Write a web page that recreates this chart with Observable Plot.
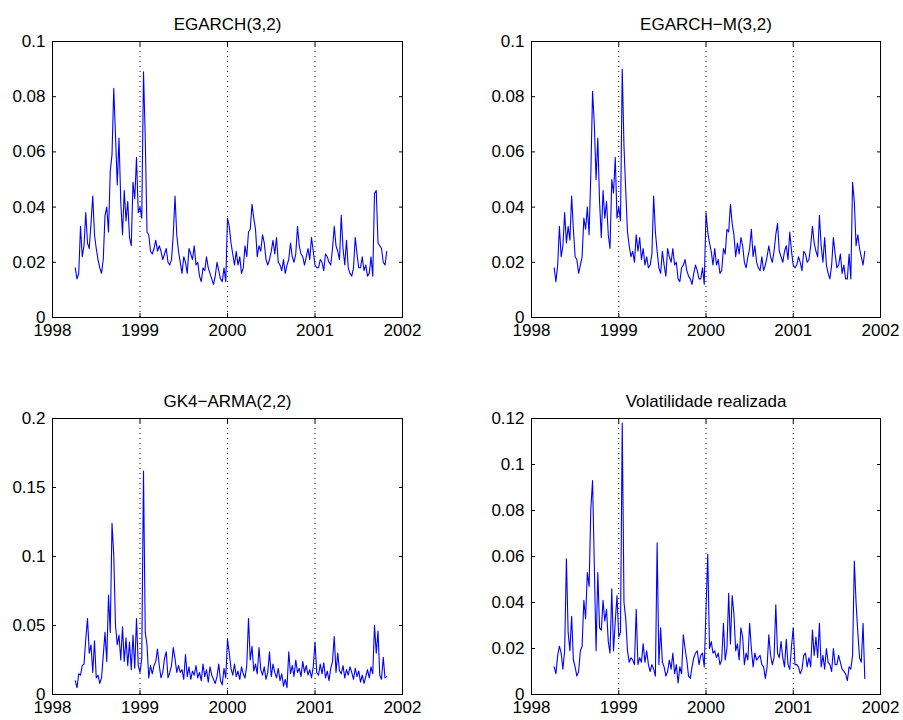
<!DOCTYPE html>
<html><head><meta charset="utf-8">
<script src="https://cdn.jsdelivr.net/npm/d3@7"></script>
<script src="https://cdn.jsdelivr.net/npm/@observablehq/plot@0.6"></script>
<style>
body{margin:0;background:#fff;}
#chart{position:relative;width:903px;height:720px;background:#fff;overflow:hidden;}
.panel{position:absolute;}
</style></head><body><div id="chart"></div>
<script>
// time grid of the sampled series (years)
const startYear = 1998.26, stepYear = 0.02;
const xTicks = [1998, 1999, 2000, 2001, 2002];
const gridYears = [1999, 2000, 2001];
const titles = ["EGARCH(3,2)", "EGARCH\u2212M(3,2)", "GK4\u2212ARMA(2,2)", "Volatilidade realizada"];
const yTicksA = [0, 0.02, 0.04, 0.06, 0.08, 0.1];
const yTicksB = [0, 0.05, 0.1, 0.15, 0.2];
const yTicksC = [0, 0.02, 0.04, 0.06, 0.08, 0.1, 0.12];

const egarch = [
.018,.014,.016,.033,.022,.026,.038,.027,.025,.034,
.044,.030,.025,.021,.018,.016,.021,.037,.040,.031,
.053,.059,.083,.066,.048,.065,.042,.030,.046,.035,
.042,.029,.026,.049,.043,.058,.038,.040,.036,.089,
.065,.031,.030,.024,.023,.025,.028,.024,.026,.024,
.021,.023,.025,.020,.019,.021,.030,.044,.030,.024,
.020,.016,.022,.020,.016,.025,.023,.021,.026,.019,
.020,.015,.013,.018,.017,.022,.018,.016,.014,.012,
.015,.020,.017,.014,.013,.018,.013,.036,.033,.027,
.023,.019,.024,.019,.022,.016,.018,.026,.022,.031,
.032,.041,.036,.032,.022,.026,.024,.030,.027,.021,
.019,.021,.024,.028,.023,.029,.020,.019,.017,.021,
.016,.019,.021,.027,.022,.020,.023,.033,.026,.023,
.022,.019,.022,.025,.021,.029,.024,.019,.018,.018,
.021,.020,.017,.023,.022,.020,.019,.025,.033,.026,
.024,.021,.037,.025,.019,.028,.018,.016,.015,.018,
.029,.023,.018,.018,.022,.017,.019,.015,.016,.022,
.015,.045,.046,.027,.026,.025,.020,.019,.024];

const egarchM = [
.018,.013,.019,.033,.022,.026,.038,.027,.033,.028,
.044,.032,.022,.021,.016,.019,.022,.036,.032,.040,
.030,.052,.082,.070,.050,.065,.042,.029,.046,.036,
.042,.030,.025,.050,.045,.058,.036,.040,.035,.090,
.062,.046,.031,.026,.022,.024,.020,.030,.024,.029,
.021,.025,.019,.022,.018,.019,.023,.044,.031,.024,
.018,.016,.024,.019,.015,.025,.022,.020,.025,.019,
.020,.014,.013,.018,.019,.021,.017,.015,.014,.012,
.016,.019,.017,.014,.014,.018,.012,.038,.031,.027,
.024,.019,.025,.019,.021,.016,.017,.025,.023,.032,
.031,.041,.034,.030,.022,.027,.023,.029,.026,.020,
.018,.022,.025,.032,.022,.026,.020,.018,.017,.022,
.017,.019,.022,.026,.022,.020,.024,.030,.034,.024,
.022,.020,.024,.026,.021,.031,.024,.019,.018,.019,
.022,.020,.017,.024,.023,.020,.021,.026,.033,.027,
.024,.022,.037,.026,.020,.029,.019,.016,.014,.019,
.029,.023,.018,.019,.023,.016,.019,.014,.014,.023,
.014,.049,.042,.026,.030,.025,.022,.019,.024];

const gk4 = [
.010,.005,.015,.014,.021,.022,.040,.055,.030,.036,
.016,.039,.012,.014,.008,.012,.028,.045,.024,.072,
.045,.124,.101,.050,.036,.043,.025,.049,.024,.041,
.021,.038,.018,.043,.019,.055,.021,.016,.026,.162,
.045,.036,.012,.021,.015,.021,.024,.033,.021,.012,
.016,.026,.031,.012,.016,.021,.034,.026,.016,.021,
.016,.018,.011,.029,.013,.020,.011,.017,.014,.021,
.012,.016,.010,.022,.013,.018,.009,.020,.014,.011,
.008,.013,.022,.010,.007,.019,.012,.040,.030,.019,
.014,.022,.013,.017,.011,.020,.015,.012,.021,.055,
.025,.035,.017,.022,.015,.034,.018,.014,.020,.011,
.016,.031,.013,.022,.016,.012,.019,.010,.015,.006,
.011,.005,.031,.015,.021,.013,.025,.016,.019,.013,
.024,.016,.021,.014,.018,.012,.020,.038,.016,.014,
.022,.015,.023,.012,.017,.010,.019,.024,.042,.016,
.030,.017,.015,.021,.012,.018,.014,.020,.016,.011,
.019,.013,.017,.009,.014,.008,.013,.018,.012,.020,
.015,.050,.030,.046,.014,.011,.027,.012,.013];

const realized = [
.012,.009,.017,.021,.018,.011,.019,.059,.027,.019,
.034,.015,.012,.008,.010,.019,.021,.041,.033,.053,
.047,.081,.093,.056,.019,.053,.029,.028,.041,.032,
.037,.023,.018,.046,.019,.032,.043,.025,.027,.118,
.040,.033,.019,.014,.016,.015,.013,.037,.013,.016,
.014,.022,.014,.019,.013,.010,.013,.011,.008,.066,
.013,.029,.014,.012,.008,.010,.015,.011,.018,.009,
.013,.005,.012,.009,.026,.020,.015,.008,.007,.012,
.016,.018,.019,.013,.017,.018,.012,.037,.061,.020,
.023,.018,.019,.016,.018,.013,.015,.031,.015,.020,
.044,.022,.043,.035,.019,.022,.015,.029,.025,.013,
.018,.015,.031,.020,.012,.018,.015,.016,.017,.013,
.012,.007,.012,.026,.017,.013,.016,.039,.018,.016,
.023,.016,.012,.024,.013,.011,.021,.029,.013,.013,
.012,.009,.011,.017,.018,.012,.016,.012,.028,.017,
.025,.016,.031,.012,.017,.011,.020,.014,.013,.010,
.020,.013,.013,.017,.014,.011,.010,.009,.006,.012,
.011,.017,.058,.040,.027,.016,.014,.031,.007];

const fmtY = d3.format("~g");
const FONT = "Liberation Sans, Arial, Helvetica, sans-serif";
const TICK = 4;

function makePanel(values, title, yTicks, layout) {
  const data = values.map((v, i) => ({t: startYear + stepYear * i, v}));
  const yMax = yTicks[yTicks.length - 1];
  return Plot.plot({
    width: 451, height: 360,
    marginLeft: layout.ml, marginRight: layout.mr, marginTop: layout.mt, marginBottom: layout.mb,
    style: {fontFamily: FONT, fontSize: "17px", background: "transparent", overflow: "visible", color: "black"},
    x: {domain: [1998, 2002]},
    y: {domain: [0, yMax]},
    marks: [
      Plot.ruleX(gridYears, {stroke: "black", strokeWidth: 1, strokeDasharray: "1,4"}),
      Plot.line(data, {x: "t", y: "v", stroke: "#0000ff", strokeWidth: 1.1}),
      Plot.frame({stroke: "black", strokeWidth: 1}),
      // inward ticks on all four sides (MATLAB box style)
      Plot.axisY(yTicks, {anchor: "left", tickSize: TICK, dx: TICK, fill: "none", label: null}),
      Plot.axisY(yTicks, {anchor: "right", tickSize: TICK, dx: -TICK, fill: "none", label: null}),
      Plot.axisX(xTicks, {anchor: "bottom", tickSize: TICK, dy: -TICK, fill: "none", label: null}),
      Plot.axisX(xTicks, {anchor: "top", tickSize: TICK, dy: TICK, fill: "none", label: null}),
      Plot.axisY(yTicks, {anchor: "left", tickSize: 0, tickPadding: 7, tickFormat: fmtY, fontSize: 17, label: null}),
      Plot.axisX(xTicks, {anchor: "bottom", tickSize: 0, tickPadding: 6, tickFormat: d => String(d), fontSize: 17, label: null}),
      Plot.text([title], {frameAnchor: "top", dy: -12, lineAnchor: "bottom", fontSize: 17})
    ]
  });
}

const chart = document.getElementById("chart");
const panels = [
  {values: egarch, title: titles[0], ticks: yTicksA, left: 0, top: 0, ml: 52, mr: 49, mt: 41, mb: 43},
  {values: egarchM, title: titles[1], ticks: yTicksA, left: 451, top: 0, ml: 80, mr: 22, mt: 41, mb: 43},
  {values: gk4, title: titles[2], ticks: yTicksB, left: 0, top: 360, ml: 52, mr: 49, mt: 58, mb: 26},
  {values: realized, title: titles[3], ticks: yTicksC, left: 451, top: 360, ml: 80, mr: 22, mt: 58, mb: 26}
];
for (const p of panels) {
  const div = document.createElement("div");
  div.className = "panel";
  div.style.left = p.left + "px";
  div.style.top = p.top + "px";
  div.appendChild(makePanel(p.values, p.title, p.ticks, p));
  chart.appendChild(div);
}
</script>
</body></html>
